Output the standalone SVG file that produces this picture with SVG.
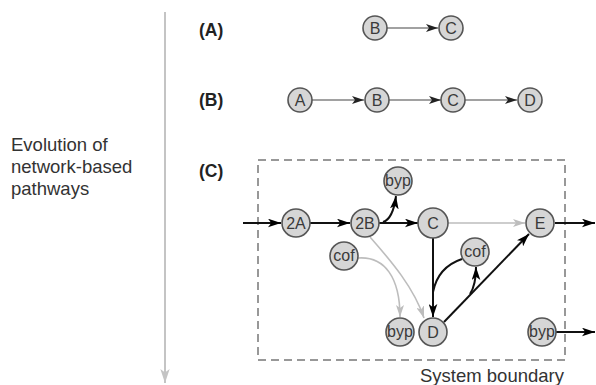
<svg xmlns="http://www.w3.org/2000/svg" width="596" height="385" viewBox="0 0 596 385">
<defs>
<style>
.n circle{fill:#d6d6d6;stroke:#555;stroke-width:1.6}
.n text{font-family:"Liberation Sans",Arial,sans-serif;font-size:16px;fill:#3a3a3a;text-anchor:middle}
.lbl{font-family:"Liberation Sans",Arial,sans-serif;font-size:17.5px;font-weight:bold;fill:#222}
.txt{font-family:"Liberation Sans",Arial,sans-serif;font-size:18.5px;fill:#333}
.thin{stroke:#444;stroke-width:1.2;fill:none}
.blk{stroke:#111;stroke-width:2;fill:none}
.gry{stroke:#bdbdbd;stroke-width:1.6;fill:none}
</style>
<marker id="ah" viewBox="0 0 12 8" refX="12" refY="4" markerWidth="12" markerHeight="8" markerUnits="userSpaceOnUse" orient="auto"><path d="M0,0 L12,4 L0,8 L3,4 Z" fill="#222"/></marker>
<marker id="ab" viewBox="0 0 12 8" refX="12" refY="4" markerWidth="13" markerHeight="9" markerUnits="userSpaceOnUse" orient="auto"><path d="M0,0 L12,4 L0,8 L3,4 Z" fill="#000"/></marker>
<marker id="ag" viewBox="0 0 12 8" refX="12" refY="4" markerWidth="12" markerHeight="8" markerUnits="userSpaceOnUse" orient="auto"><path d="M0,0 L12,4 L0,8 L3,4 Z" fill="#bdbdbd"/></marker>
<marker id="av" viewBox="0 0 12 8" refX="12" refY="4" markerWidth="14" markerHeight="10" markerUnits="userSpaceOnUse" orient="auto"><path d="M0,0 L12,4 L0,8 L3,4 Z" fill="#c4c4c4"/></marker>
</defs>
<rect width="596" height="385" fill="#fff"/>

<!-- axis -->
<line x1="165" y1="12" x2="165" y2="383" stroke="#c4c4c4" stroke-width="2" marker-end="url(#av)"/>
<text class="txt" x="11" y="151">Evolution of</text>
<text class="txt" x="11" y="173">network-based</text>
<text class="txt" x="11" y="195">pathways</text>
<text class="lbl" x="199" y="36">(A)</text>
<text class="lbl" x="199" y="106">(B)</text>
<text class="lbl" x="199" y="177">(C)</text>

<!-- boundary -->
<rect x="258" y="160" width="307" height="200" fill="none" stroke="#777" stroke-width="1.5" stroke-dasharray="8,5"/>
<text class="txt" x="420" y="382">System boundary</text>

<g id="connectors">
<line class="thin" x1="387" y1="28" x2="438" y2="28" marker-end="url(#ah)"/>
<line class="thin" x1="312" y1="100" x2="364" y2="100" marker-end="url(#ah)"/>
<line class="thin" x1="389" y1="100" x2="441" y2="100" marker-end="url(#ah)"/>
<line class="thin" x1="465" y1="100" x2="517" y2="100" marker-end="url(#ah)"/>

<line class="blk" x1="243" y1="223" x2="281" y2="223" marker-end="url(#ab)"/>
<line class="blk" x1="310" y1="223" x2="350" y2="223" marker-end="url(#ab)"/>
<line class="blk" x1="379" y1="223" x2="418" y2="223" marker-end="url(#ab)"/>
<path class="blk" d="M383,222 Q393,219 396,196" marker-end="url(#ab)"/>
<line class="gry" x1="448" y1="223" x2="525" y2="223" marker-end="url(#ag)"/>
<line class="blk" x1="555" y1="223" x2="595" y2="223" marker-end="url(#ab)"/>
<line class="blk" x1="433" y1="238" x2="433" y2="317" marker-end="url(#ab)"/>
<path class="blk" d="M462,259 Q438,267 433,292"/>
<line class="blk" x1="444" y1="322" x2="529" y2="234" marker-end="url(#ab)"/>
<path class="blk" d="M470,294 Q476,285 476,267" marker-end="url(#ab)"/>
<path class="gry" d="M358,258 C385,256 400,278 400,317" marker-end="url(#ag)"/>
<path class="gry" d="M370,237 C392,262 414,288 424,318" marker-end="url(#ag)"/>
<line class="blk" x1="556" y1="332" x2="595" y2="332" marker-end="url(#ab)"/>
</g>

<g id="nA_B" class="n"><circle cx="375" cy="28" r="12"/><text x="375" y="34">B</text></g>
<g id="nA_C" class="n"><circle cx="451" cy="28" r="12"/><text x="451" y="34">C</text></g>
<g id="nB_A" class="n"><circle cx="300" cy="100" r="12"/><text x="300" y="106">A</text></g>
<g id="nB_B" class="n"><circle cx="377" cy="100" r="12"/><text x="377" y="106">B</text></g>
<g id="nB_C" class="n"><circle cx="453" cy="100" r="12"/><text x="453" y="106">C</text></g>
<g id="nB_D" class="n"><circle cx="530" cy="100" r="12"/><text x="530" y="106">D</text></g>

<g id="n2A" class="n"><circle cx="296" cy="223" r="14"/><text x="296" y="229">2A</text></g>
<g id="n2B" class="n"><circle cx="365" cy="223" r="14"/><text x="365" y="229">2B</text></g>
<g id="nC" class="n"><circle cx="433" cy="223" r="15"/><text x="433" y="229">C</text></g>
<g id="nE" class="n"><circle cx="540" cy="223" r="14"/><text x="540" y="229">E</text></g>
<g id="nbyp1" class="n"><circle cx="398" cy="181" r="14"/><text x="398" y="186">byp</text></g>
<g id="ncof1" class="n"><circle cx="344" cy="256" r="14"/><text x="344" y="261">cof</text></g>
<g id="ncof2" class="n"><circle cx="475" cy="252" r="14"/><text x="475" y="257">cof</text></g>
<g id="nD" class="n"><circle cx="433" cy="332" r="14"/><text x="433" y="338">D</text></g>
<g id="nbyp2" class="n"><circle cx="400" cy="332" r="14"/><text x="400" y="337">byp</text></g>
<g id="nbyp3" class="n"><circle cx="542" cy="332" r="14"/><text x="542" y="337">byp</text></g>
</svg>
